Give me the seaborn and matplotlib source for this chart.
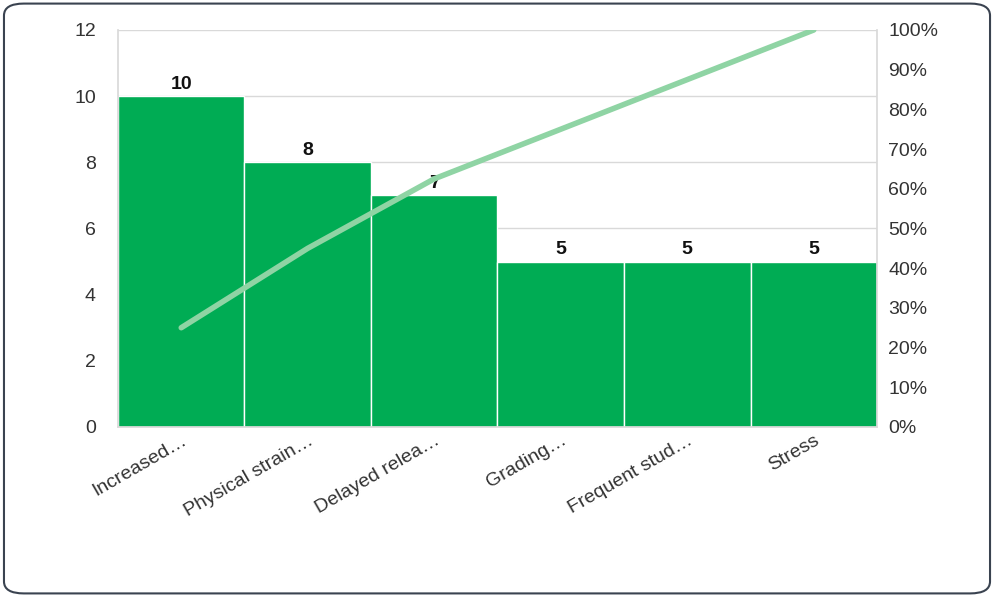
import matplotlib
matplotlib.use("Agg")
import matplotlib.pyplot as plt
import seaborn as sns
import numpy as np
import pandas as pd
from matplotlib.patches import FancyBboxPatch
from matplotlib.ticker import PercentFormatter

categories = ["Increased…", "Physical strain…", "Delayed relea…", "Grading…", "Frequent stud…", "Stress"]
counts = [10, 8, 7, 5, 5, 5]
cum_pct = list(np.cumsum(counts) / np.sum(counts) * 100)

sns.set_theme(style="white")
plt.rcParams['font.family'] = ['Liberation Sans', 'DejaVu Sans']

fig = plt.figure(figsize=(9.94, 5.97), dpi=100)
fig.patches.append(FancyBboxPatch((0.004, 0.006), 0.992, 0.988, boxstyle="round,pad=0,rounding_size=0.02",
                                  transform=fig.transFigure, fc="white", ec="#3a4350", lw=1.5, zorder=-1))
ax = fig.add_axes([0.1187, 0.2848, 0.7636, 0.665])
ax.patch.set_alpha(0)
df = pd.DataFrame({"cat": categories, "n": counts})
sns.barplot(data=df, x="cat", y="n", ax=ax, color="#00ac54", saturation=1, width=1.0,
            edgecolor="white", linewidth=1, zorder=2)
for i, v in enumerate(counts):
    ax.text(i, v + 0.1, str(v), ha="center", va="bottom", fontsize=14, fontweight="bold", color="#111")
ax.set_ylim(0, 12)
ax.set_xlim(-0.5, len(categories) - 0.5)
ax.set_yticks(range(0, 13, 2))
ax.yaxis.grid(True, color="#d9d9d9", lw=1, zorder=0)
ax.set_xlabel(""); ax.set_ylabel("")
ax.tick_params(axis="y", labelsize=14, colors="#333", length=0, pad=16)
ax.tick_params(axis="x", labelsize=14, colors="#333", length=0)
plt.setp(ax.get_xticklabels(), rotation=30, ha="right", rotation_mode="anchor")
for s in ["top"]:
    ax.spines[s].set_visible(False)
for s in ["left", "right", "bottom"]:
    ax.spines[s].set_color("#d9d9d9")

ax2 = ax.twinx()
sns.lineplot(x=list(range(len(categories))), y=cum_pct, ax=ax2, color="#8fd4a4", lw=4, zorder=3)
ax2.set_ylim(0, 100)
ax2.set_yticks(range(0, 101, 10))
ax2.yaxis.set_major_formatter(PercentFormatter(decimals=0))
ax2.tick_params(axis="y", labelsize=14, colors="#333", length=0, pad=8)
for s in ax2.spines.values():
    s.set_visible(False)
fig.savefig("out.png", dpi=100)
